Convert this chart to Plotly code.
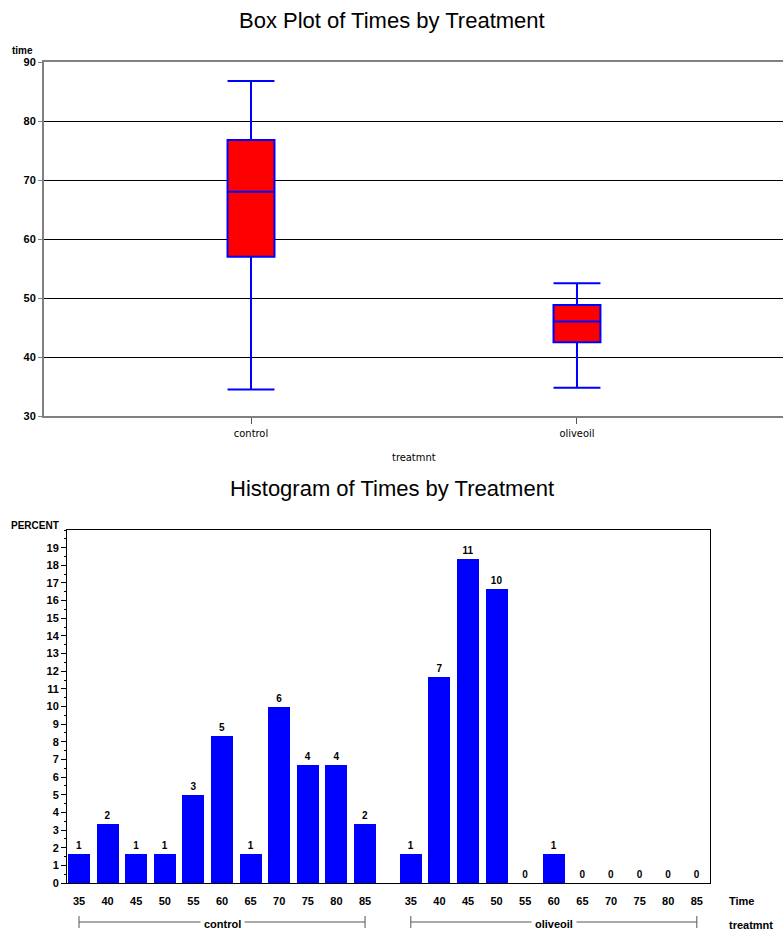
import plotly.graph_objects as go

# ---------------- data ----------------
treatments = ["control", "oliveoil"]
box_min = [34.5, 34.8]
box_q1 = [57.0, 42.5]
box_median = [68.0, 46.0]
box_q3 = [76.8, 48.8]
box_max = [86.8, 52.5]

time_bins = [35, 40, 45, 50, 55, 60, 65, 70, 75, 80, 85]
control_counts = [1, 2, 1, 1, 3, 5, 1, 6, 4, 4, 2]
oliveoil_counts = [1, 7, 11, 10, 0, 1, 0, 0, 0, 0, 0]
hist_counts = [control_counts, oliveoil_counts]

W, H = 783, 934
BLUE = "#0000FF"
RED = "#FF0000"
TICKFONT = dict(family="Liberation Sans, Arial, sans-serif", size=11, color="black")
NARROW = "Liberation Sans Narrow, DejaVu Sans Condensed, Arial Narrow, sans-serif"


def px_x(p):
    return p / W


def px_y(p):
    return 1 - p / H


fig = go.Figure()

# ---------------- box plot ----------------
box_pos = list(range(len(treatments)))
fig.add_trace(go.Box(
    x=box_pos,
    q1=box_q1, median=box_median, q3=box_q3,
    lowerfence=box_min, upperfence=box_max,
    fillcolor=RED,
    line=dict(color=BLUE, width=2),
    width=0.144,
    whiskerwidth=1,
    boxpoints=False,
    hoverinfo="skip",
    showlegend=False,
    xaxis="x", yaxis="y",
))

# ---------------- histogram ----------------
n_total = sum(sum(c) for c in hist_counts)
group_gap = 0.6
bar_x, bar_y, bar_text = [], [], []
tick_vals, tick_text = [], []
group_spans = []
for g, counts in enumerate(hist_counts):
    offset = g * (len(time_bins) + group_gap)
    xs = [offset + i for i in range(len(time_bins))]
    bar_x += xs
    bar_y += [c / n_total * 100 for c in counts]
    bar_text += [str(c) for c in counts]
    tick_vals += xs
    tick_text += [str(b) for b in time_bins]
    group_spans.append((xs[0], xs[-1]))

fig.add_trace(go.Bar(
    x=bar_x, y=bar_y, text=bar_text,
    textposition="outside",
    textfont=dict(family="Liberation Sans, Arial, sans-serif", size=10, color="black"),
    texttemplate="<b>%{text}</b>",
    marker=dict(color=BLUE, line=dict(width=0)),
    width=0.77,
    cliponaxis=False,
    hoverinfo="skip",
    showlegend=False,
    xaxis="x2", yaxis="y2",
))

# ---------------- layout ----------------
fig.update_layout(
    width=W, height=H,
    margin=dict(l=0, r=0, t=0, b=0, autoexpand=False),
    paper_bgcolor="white", plot_bgcolor="white",
    bargap=0,
    xaxis=dict(
        domain=[px_x(44), 1.0],
        range=[-0.635, 1.632],
        tickvals=box_pos, ticktext=treatments,
        tickfont=dict(family=NARROW, size=11, color="black"),
        ticks="outside", ticklen=6, tickcolor="#555555",
        showline=True, linecolor="#808080", linewidth=2, mirror=True,
        showgrid=False, zeroline=False,
        anchor="y", automargin=False,
    ),
    yaxis=dict(
        domain=[px_y(416), px_y(62)],
        range=[30, 90],
        tickvals=[30, 40, 50, 60, 70, 80, 90],
        ticktext=["<b>%d</b>" % v for v in [30, 40, 50, 60, 70, 80, 90]],
        tickfont=TICKFONT,
        ticks="outside", ticklen=4, tickcolor="#808080",
        showline=True, linecolor="#808080", linewidth=2,
        showgrid=True, gridcolor="black", gridwidth=1,
        zeroline=False,
        anchor="x", automargin=False,
    ),
    xaxis2=dict(
        domain=[px_x(67), px_x(710)],
        range=[-0.42, 22.06],
        tickvals=tick_vals, ticktext=["<b>%s</b>" % t for t in tick_text],
        tickfont=TICKFONT,
        ticks="outside", ticklen=8, tickcolor="rgba(0,0,0,0)",
        showline=True, linecolor="black", linewidth=1, mirror=True,
        showgrid=False, zeroline=False,
        anchor="y2", automargin=False,
    ),
    yaxis2=dict(
        domain=[px_y(883), px_y(530)],
        range=[0, 20],
        tickvals=list(range(0, 20)),
        ticktext=["<b>%d</b>" % v for v in range(0, 20)],
        tickfont=TICKFONT,
        ticks="outside", ticklen=5, tickcolor="black",
        minor=dict(dtick=0.5, ticks="outside", ticklen=2, tickcolor="black"),
        showline=True, linecolor="black", linewidth=1, mirror=True,
        showgrid=False, zeroline=False,
        anchor="x2", automargin=False,
    ),
)

TITLE_FONT = dict(family="Liberation Sans, Arial, sans-serif", size=22, color="black")
ann = [
    dict(text="Box Plot of Times by Treatment", x=0.5, y=px_y(20), xref="paper", yref="paper",
         showarrow=False, font=TITLE_FONT, xanchor="center", yanchor="middle"),
    dict(text="Histogram of Times by Treatment", x=0.5, y=px_y(489), xref="paper", yref="paper",
         showarrow=False, font=TITLE_FONT, xanchor="center", yanchor="middle"),
    dict(text="<b>time</b>", x=px_x(10), y=px_y(51), xref="paper", yref="paper",
         showarrow=False, font=dict(family="Liberation Sans, Arial", size=10, color="black"),
         xanchor="left", yanchor="middle"),
    dict(text="treatmnt", x=px_x(414), y=px_y(458), xref="paper", yref="paper",
         showarrow=False, font=dict(family=NARROW, size=11, color="black"),
         xanchor="center", yanchor="middle"),
    dict(text="<b>PERCENT</b>", x=px_x(9), y=px_y(525), xref="paper", yref="paper",
         showarrow=False, font=dict(family="Liberation Sans, Arial", size=10, color="black"),
         xanchor="left", yanchor="middle"),
    dict(text="<b>Time</b>", x=px_x(727), y=px_y(901), xref="paper", yref="paper",
         showarrow=False, font=TICKFONT, xanchor="left", yanchor="middle"),
    dict(text="<b>treatmnt</b>", x=px_x(727), y=px_y(925), xref="paper", yref="paper",
         showarrow=False, font=TICKFONT, xanchor="left", yanchor="middle"),
]

shapes = []
for name, (x0, x1) in zip(treatments, group_spans):
    mid = (x0 + x1) / 2
    ann.append(dict(text="<b>%s</b>" % name, x=mid, y=px_y(924), xref="x2", yref="paper",
                    showarrow=False, font=TICKFONT, xanchor="center", yanchor="middle",
                    bgcolor="white", borderpad=3))
    shapes.append(dict(type="line", xref="x2", yref="paper", x0=x0, x1=x1,
                       y0=px_y(922), y1=px_y(922), line=dict(color="#555555", width=1)))
    for xe in (x0, x1):
        shapes.append(dict(type="line", xref="x2", yref="paper", x0=xe, x1=xe,
                           y0=px_y(916), y1=px_y(928), line=dict(color="#555555", width=1)))

fig.update_layout(annotations=ann, shapes=shapes)
fig.write_html("out.html", config={"displayModeBar": False, "staticPlot": True},
               post_script="document.body.style.margin='0px';")
